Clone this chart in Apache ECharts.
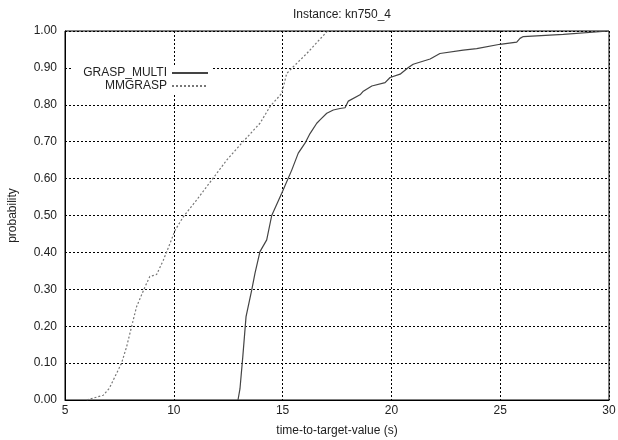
<!DOCTYPE html>
<html><head><meta charset="utf-8">
<script src="https://cdn.jsdelivr.net/npm/echarts@6/dist/echarts.min.js"></script>
<style>html,body{margin:0;padding:0;background:#fff}#c{width:618px;height:440px}</style>
</head><body><div id="c"></div>
<script>
const titleText = 'Instance: kn750_4';
const seriesNames = ['GRASP_MULTI', 'MMGRASP'];
const graspMultiX = [12.95, 13.04, 13.17, 13.32, 13.58, 13.73, 13.96, 14.27, 14.5, 14.96, 15.42, 15.72, 16.03, 16.26, 16.57, 16.72, 17.03, 17.33, 17.64, 17.87, 18.02, 18.56, 18.71, 19.1, 19.71, 19.94, 20.4, 20.78, 21.0, 21.78, 22.23, 23.3, 23.92, 24.99, 25.76, 25.91, 26.06, 27.9, 30.0];
const graspMultiY = [0.0, 0.03, 0.117, 0.226, 0.298, 0.343, 0.402, 0.434, 0.5, 0.56, 0.623, 0.669, 0.696, 0.722, 0.75, 0.759, 0.777, 0.786, 0.79, 0.792, 0.81, 0.827, 0.837, 0.851, 0.86, 0.874, 0.883, 0.901, 0.91, 0.924, 0.939, 0.948, 0.952, 0.964, 0.97, 0.98, 0.985, 0.991, 1.0];
const mmgraspX = [6.0, 6.76, 7.04, 7.22, 7.6, 7.83, 8.06, 8.29, 8.68, 8.9, 9.21, 9.52, 9.83, 10.06, 10.44, 11.05, 11.51, 12.43, 13.12, 13.96, 14.42, 14.96, 15.19, 15.49, 16.11, 17.03];
const mmgraspY = [0.0, 0.013, 0.032, 0.054, 0.1, 0.144, 0.199, 0.253, 0.307, 0.335, 0.34, 0.379, 0.425, 0.46, 0.497, 0.542, 0.578, 0.65, 0.696, 0.75, 0.795, 0.831, 0.885, 0.903, 0.939, 0.998];
const xName = 'time-to-target-value (s)';
const yName = 'probability';

const font = 'Liberation Sans, Arial, sans-serif';
const chart = echarts.init(document.getElementById('c'));
const pair = (xs, ys) => xs.map((x, i) => [x, ys[i]]);
const legendBase = { orient: 'vertical', right: 407, align: 'right', itemWidth: 36, itemHeight: 8, backgroundColor: '#fff', padding: [1, 2, 1, 12], itemStyle: { opacity: 0 }, textStyle: { fontFamily: font, fontSize: 12, color: '#222' } };
chart.setOption({
  animation: false,
  title: { text: titleText, left: 337, textAlign: 'center', top: 4, textStyle: { fontFamily: font, fontSize: 12, fontWeight: 'normal', color: '#222' } },
  grid: { left: 65, right: 9, top: 31, bottom: 40, outerBoundsMode: 'none', containLabel: false, show: true, borderColor: '#000', borderWidth: 1, backgroundColor: 'transparent' },
  legend: [
    Object.assign({ data: [seriesNames[0]], top: 66 }, legendBase),
    Object.assign({ data: [seriesNames[1]], top: 79 }, legendBase)
  ],
  xAxis: {
    type: 'value', min: 5, max: 30, interval: 5,
    name: xName, nameLocation: 'middle', nameGap: 25,
    nameTextStyle: { fontFamily: font, fontSize: 12, color: '#222' },
    axisLine: { show: true, lineStyle: { color: '#000', width: 1 } },
    axisTick: { show: false },
    axisLabel: { fontFamily: font, fontSize: 12, color: '#222', margin: 5 },
    splitLine: { show: true, lineStyle: { color: '#000', width: 1, type: [2, 2] } }
  },
  yAxis: {
    type: 'value', min: 0, max: 1, interval: 0.1,
    name: yName, nameLocation: 'middle', nameGap: 46, nameRotate: 90,
    nameTextStyle: { fontFamily: font, fontSize: 12, color: '#222' },
    axisLine: { show: true, lineStyle: { color: '#000', width: 1 } },
    axisTick: { show: false },
    axisLabel: { fontFamily: font, fontSize: 12, color: '#222', margin: 8, formatter: v => v.toFixed(2) },
    splitLine: { show: true, lineStyle: { color: '#000', width: 1, type: [2, 2] } }
  },
  series: [
    { name: seriesNames[0], type: 'line', data: pair(graspMultiX, graspMultiY), symbol: 'none', lineStyle: { color: '#444', width: 1.2 }, itemStyle: { color: '#444' } },
    { name: seriesNames[1], type: 'line', data: pair(mmgraspX, mmgraspY), symbol: 'none', lineStyle: { color: '#777', width: 1.2, type: [2, 2] }, itemStyle: { color: '#777' } }
  ]
});
</script></body></html>
